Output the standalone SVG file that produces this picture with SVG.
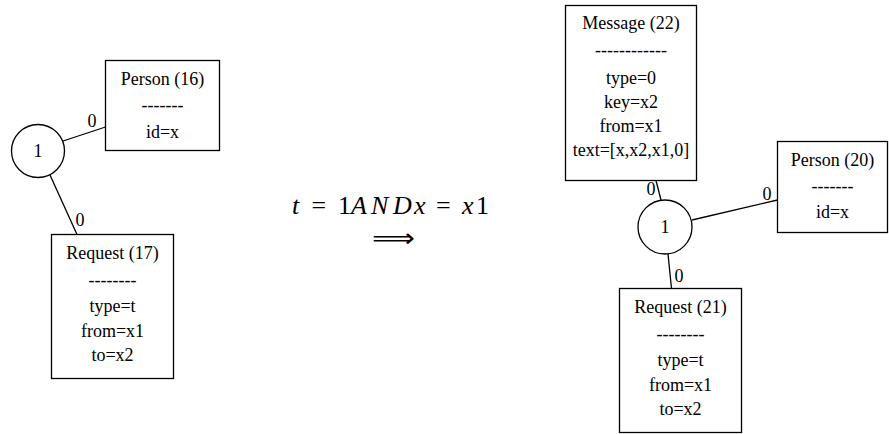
<svg xmlns="http://www.w3.org/2000/svg" width="889" height="434" viewBox="0 0 889 434">
<style>
.box{fill:#fff;stroke:#000;stroke-width:1.3}
.t{font-family:"Liberation Serif","Times New Roman",serif;font-size:18px;fill:#000;text-anchor:middle}
.e{stroke:#000;stroke-width:1.3;fill:none}
.m{font-family:"Liberation Serif","Times New Roman",serif;font-size:26px;fill:#000}
.mi{font-style:italic}
</style>
<rect width="889" height="434" fill="#fff"/>
<g id="connectors">
<line class="e" x1="63" y1="141" x2="105.5" y2="127"/>
<line class="e" x1="50" y1="175" x2="77" y2="234.5"/>
<line class="e" x1="656" y1="180.5" x2="661" y2="200"/>
<line class="e" x1="692" y1="220" x2="777.5" y2="200"/>
<line class="e" x1="668" y1="254" x2="671.5" y2="288.5"/>
<text class="t" x="92" y="127">0</text>
<text class="t" x="80" y="226">0</text>
<text class="t" x="651" y="195">0</text>
<text class="t" x="767" y="200">0</text>
<text class="t" x="679" y="282">0</text>
</g>
<g id="and1">
<circle class="box" cx="38" cy="151" r="26.5"/>
<text class="t" x="38" y="157">1</text>
</g>
<g id="person16">
<rect class="box" x="105.5" y="60.5" width="114" height="90"/>
<text class="t" x="162.5" y="84.5">Person (16)</text>
<text class="t" x="162.5" y="111">-------</text>
<text class="t" x="162.5" y="138">id=x</text>
</g>
<g id="request17">
<rect class="box" x="51.5" y="234.5" width="122" height="144"/>
<text class="t" x="112.5" y="259">Request (17)</text>
<text class="t" x="112.5" y="286">--------</text>
<text class="t" x="112.5" y="312">type=t</text>
<text class="t" x="112.5" y="337">from=x1</text>
<text class="t" x="112.5" y="361">to=x2</text>
</g>
<g id="rule">
<text class="m" y="214"><tspan class="mi" x="292">t</tspan><tspan x="311.5">=</tspan><tspan x="338">1</tspan><tspan class="mi" x="351">A</tspan><tspan class="mi" x="371">N</tspan><tspan class="mi" x="393">D</tspan><tspan class="mi" x="414">x</tspan><tspan x="436">=</tspan><tspan class="mi" x="462">x</tspan><tspan x="476">1</tspan></text>
<text x="372" y="247" font-family="DejaVu Sans,sans-serif" font-size="26" textLength="43" lengthAdjust="spacingAndGlyphs">⟹</text>
</g>
<g id="message22">
<rect class="box" x="565.5" y="5.5" width="131" height="175"/>
<text class="t" x="631" y="29">Message (22)</text>
<text class="t" x="631" y="56">------------</text>
<text class="t" x="631" y="84">type=0</text>
<text class="t" x="631" y="108">key=x2</text>
<text class="t" x="631" y="132">from=x1</text>
<text class="t" x="631" y="156">text=[x,x2,x1,0]</text>
</g>
<g id="and2">
<circle class="box" cx="665" cy="227" r="27"/>
<text class="t" x="665" y="233">1</text>
</g>
<g id="person20">
<rect class="box" x="777.5" y="141.5" width="110" height="91"/>
<text class="t" x="832.5" y="166">Person (20)</text>
<text class="t" x="832.5" y="192">-------</text>
<text class="t" x="832.5" y="218">id=x</text>
</g>
<g id="request21">
<rect class="box" x="619.5" y="288.5" width="122" height="144"/>
<text class="t" x="680.5" y="313">Request (21)</text>
<text class="t" x="680.5" y="340">--------</text>
<text class="t" x="680.5" y="366">type=t</text>
<text class="t" x="680.5" y="391">from=x1</text>
<text class="t" x="680.5" y="415">to=x2</text>
</g>
</svg>
